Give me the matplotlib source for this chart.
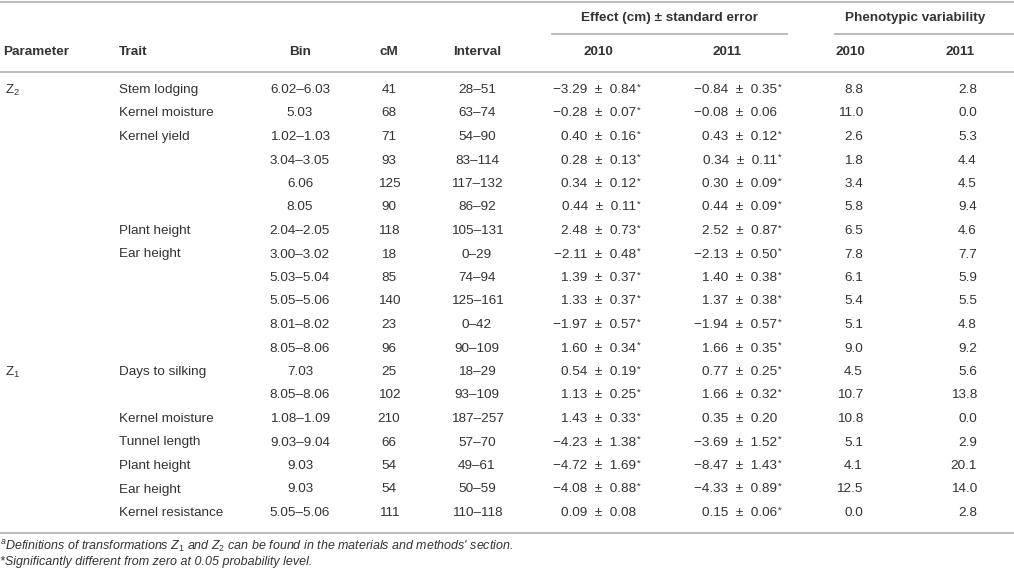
import matplotlib
matplotlib.use("Agg")
import matplotlib.pyplot as plt

plt.rcParams['font.family'] = ['Liberation Sans', 'DejaVu Sans']
plt.rcParams['mathtext.fontset'] = 'custom'
plt.rcParams['mathtext.rm'] = 'Liberation Sans'
plt.rcParams['mathtext.it'] = 'Liberation Sans:italic'

# datos de la tabla
parametros = ["Z$_2$"] + [""] * 11 + ["Z$_1$"] + [""] * 6
rasgos = ["Stem lodging", "Kernel moisture", "Kernel yield", "", "", "",
          "Plant height", "Ear height", "", "", "", "",
          "Days to silking", "", "Kernel moisture", "Tunnel length",
          "Plant height", "Ear height", "Kernel resistance"]
bins = ["6.02–6.03", "5.03", "1.02–1.03", "3.04–3.05", "6.06", "8.05",
        "2.04–2.05", "3.00–3.02", "5.03–5.04", "5.05–5.06", "8.01–8.02",
        "8.05–8.06", "7.03", "8.05–8.06", "1.08–1.09", "9.03–9.04",
        "9.03", "9.03", "5.05–5.06"]
cM = [41, 68, 71, 93, 125, 90, 118, 18, 85, 140, 23, 96, 25, 102, 210, 66, 54, 54, 111]
intervalos = ["28–51", "63–74", "54–90", "83–114", "117–132", "86–92", "105–131",
              "0–29", "74–94", "125–161", "0–42", "90–109", "18–29", "93–109",
              "187–257", "57–70", "49–61", "50–59", "110–118"]
ef2010 = [-3.29, -0.28, 0.40, 0.28, 0.34, 0.44, 2.48, -2.11, 1.39, 1.33, -1.97,
          1.60, 0.54, 1.13, 1.43, -4.23, -4.72, -4.08, 0.09]
se2010 = [0.84, 0.07, 0.16, 0.13, 0.12, 0.11, 0.73, 0.48, 0.37, 0.37, 0.57,
          0.34, 0.19, 0.25, 0.33, 1.38, 1.69, 0.88, 0.08]
sig2010 = [True] * 18 + [False]
ef2011 = [-0.84, -0.08, 0.43, 0.34, 0.30, 0.44, 2.52, -2.13, 1.40, 1.37, -1.94,
          1.66, 0.77, 1.66, 0.35, -3.69, -8.47, -4.33, 0.15]
se2011 = [0.35, 0.06, 0.12, 0.11, 0.09, 0.09, 0.87, 0.50, 0.38, 0.38, 0.57,
          0.35, 0.25, 0.32, 0.20, 1.52, 1.43, 0.89, 0.06]
sig2011 = [True, False] + [True] * 12 + [False] + [True] * 4
fv2010 = [8.8, 11.0, 2.6, 1.8, 3.4, 5.8, 6.5, 7.8, 6.1, 5.4, 5.1, 9.0, 4.5,
          10.7, 10.8, 5.1, 4.1, 12.5, 0.0]
fv2011 = [2.8, 0.0, 5.3, 4.4, 4.5, 9.4, 4.6, 7.7, 5.9, 5.5, 4.8, 9.2, 5.6,
          13.8, 0.0, 2.9, 20.1, 14.0, 2.8]

W, H = 1014, 574
fig = plt.figure(figsize=(W / 100, H / 100), dpi=100)
ax = fig.add_axes([0, 0, 1, 1])
ax.set_xlim(0, W)
ax.set_ylim(H, 0)
ax.axis("off")

txt = "#333333"
linea = "#b4b4b4"
fs = 9.7

# columnas (x) y filas (y)
x_par, x_tr = 3, 119
x_bin, x_cm, x_int = 300, 389, 477
x_e10h, x_e11h = 598, 727      # centro de encabezados
x_e10, x_e11 = 636, 777        # borde derecho de los valores
x_f10h, x_f11h = 850, 960
x_f10, x_f11 = 863, 977
y0, dy = 90, 23.5


def fmt(v, s):
    return f"{v:.2f}".replace("-", "−") + f"  ±  {s:.2f}"


# encabezado
ax.axhline(1.5, color=linea, lw=1.3)
ax.text(669.5, 18, "Effect (cm) ± standard error", ha="center", va="center",
        fontsize=fs, fontweight="bold", color=txt)
ax.text(915.5, 18, "Phenotypic variability", ha="center", va="center",
        fontsize=fs, fontweight="bold", color=txt)
ax.plot([552, 787], [33.5, 33.5], color=linea, lw=1.3)
ax.plot([835, 1014], [33.5, 33.5], color=linea, lw=1.3)

yh = 52
ax.text(x_par, yh, "Parameter", ha="left", va="center", fontsize=fs, fontweight="bold", color=txt)
ax.text(x_tr, yh, "Trait", ha="left", va="center", fontsize=fs, fontweight="bold", color=txt)
for x, lab in [(x_bin, "Bin"), (x_cm, "cM"), (x_int, "Interval"), (x_e10h, "2010"),
               (x_e11h, "2011"), (x_f10h, "2010"), (x_f11h, "2011")]:
    ax.text(x, yh, lab, ha="center", va="center", fontsize=fs, fontweight="bold", color=txt)
ax.axhline(71.5, color=linea, lw=1.3)

# filas
for i in range(len(bins)):
    y = y0 + i * dy
    ax.text(x_par + 2, y, parametros[i], ha="left", va="center", fontsize=fs, color=txt)
    ax.text(x_tr, y, rasgos[i], ha="left", va="center", fontsize=fs, color=txt)
    ax.text(x_bin, y, bins[i], ha="center", va="center", fontsize=fs, color=txt)
    ax.text(x_cm, y, str(cM[i]), ha="center", va="center", fontsize=fs, color=txt)
    ax.text(x_int, y, intervalos[i], ha="center", va="center", fontsize=fs, color=txt)
    for xv, v, s, sig in [(x_e10, ef2010[i], se2010[i], sig2010[i]),
                          (x_e11, ef2011[i], se2011[i], sig2011[i])]:
        ax.text(xv, y, fmt(v, s), ha="right", va="center", fontsize=fs, color=txt)
        if sig:
            ax.text(xv + 0.5, y - 3, "*", ha="left", va="center", fontsize=fs * 0.7, color=txt)
    ax.text(x_f10, y, f"{fv2010[i]:.1f}", ha="right", va="center", fontsize=fs, color=txt)
    ax.text(x_f11, y, f"{fv2011[i]:.1f}", ha="right", va="center", fontsize=fs, color=txt)

ax.axhline(532.5, color=linea, lw=1.3)

# notas al pie
ax.text(0, 546.5, "$^{a}$Definitions of transformations $Z_1$ and $Z_2$ can be found in the materials and methods' section.",
        ha="left", va="center", fontsize=9.0, style="italic", color=txt)
ax.text(0, 562.5, "*Significantly different from zero at 0.05 probability level.",
        ha="left", va="center", fontsize=9.0, style="italic", color=txt)

fig.savefig("out.png", dpi=100)
